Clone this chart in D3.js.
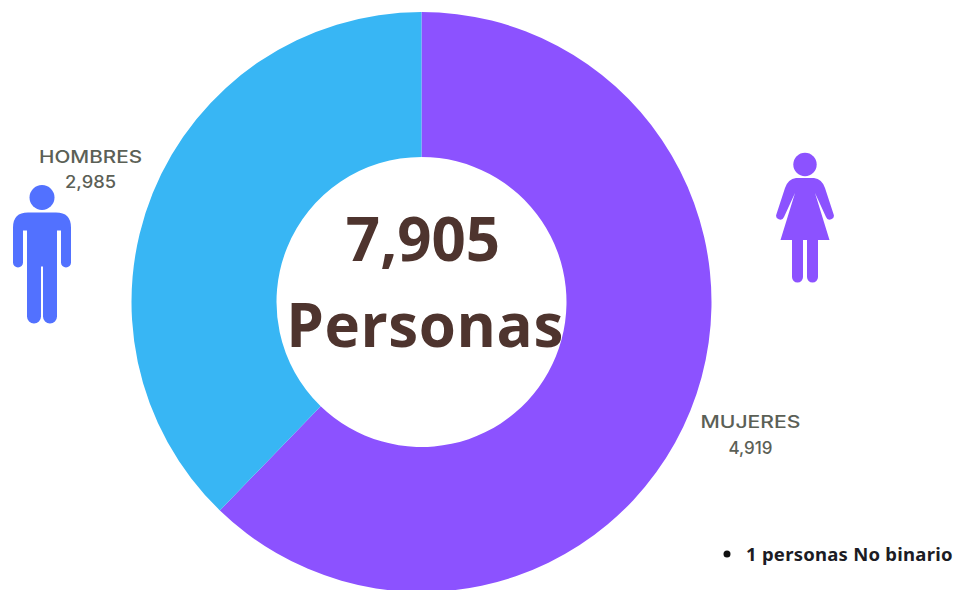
<!DOCTYPE html>
<html>
<head>
<meta charset="utf-8">
<script src="https://cdn.jsdelivr.net/npm/d3@7"></script>
<style>
    html, body { margin: 0; padding: 0; background: #fff; }
    svg { display: block; }
</style>
</head>
<body>
<div id="chart"></div>
<script>
// Values
var categories = ["MUJERES", "HOMBRES"];
var values = [4919, 2985];
var sliceColors = ["#8c52ff", "#38b6f4"];
var noBinario = 1;
var totalLabel = "Personas";
var noteLabel = " personas No binario";

var width = 954,
    height = 590;

var svg = d3.select("#chart").append("svg")
    .attr("width", width)
    .attr("height", height);

// Donut
var pie = d3.pie().sort(null).value(function (d) { return d; });
var arc = d3.arc().innerRadius(145).outerRadius(290);

var donut = svg.append("g").attr("transform", "translate(421.5,302)");

donut.selectAll("path")
    .data(pie(values))
    .enter().append("path")
    .attr("d", arc)
    .attr("fill", function (d, i) { return sliceColors[i]; });

// Center text
var total = d3.sum(values) + noBinario;

svg.append("text")
    .attr("x", 423)
    .attr("y", 261)
    .attr("text-anchor", "middle")
    .style("font", "700 60px 'Open Sans'")
    .style("fill", "#4e342e")
    .text(d3.format(",")(total));

svg.append("text")
    .attr("x", 425)
    .attr("y", 347)
    .attr("text-anchor", "middle")
    .style("font", "700 60px 'Open Sans'")
    .style("letter-spacing", "0.6px")
    .style("fill", "#4e342e")
    .text(totalLabel);

// Slice labels
var labelPos = [[750.5, 428, 100, 44], [90.5, 162.5, 103, 51]];

categories.forEach(function (name, i) {
    var p = labelPos[i];
    var g = svg.append("g")
        .attr("text-anchor", "middle")
        .style("font", "500 17px Inter")
        .style("fill", "#5b6056");
    g.append("text")
        .attr("x", p[0])
        .attr("y", p[1])
        .attr("textLength", p[2])
        .attr("lengthAdjust", "spacingAndGlyphs")
        .text(name);
    g.append("text")
        .attr("x", p[0])
        .attr("y", p[1] + 25.5)
        .attr("textLength", p[3])
        .attr("lengthAdjust", "spacingAndGlyphs")
        .text(d3.format(",")(values[i]));
});

// Man pictogram
var man = svg.append("g").attr("transform", "translate(42,212.5)").attr("fill", "#5271ff");
man.append("circle").attr("cy", -15).attr("r", 12.5);
man.append("path").attr("d",
    "M-29,15 Q-29,0 -14,0 L14,0 Q29,0 29,15 L29,50 A5,5 0 0 1 19,50 L19,18 L15,18 " +
    "L15,104 A7,7 0 0 1 1,104 L1,54 L-1,54 L-1,104 A7,7 0 0 1 -15,104 L-15,18 L-19,18 L-19,50 A5,5 0 0 1 -29,50 Z");

// Woman pictogram
var woman = svg.append("g").attr("transform", "translate(805,178)").attr("fill", "#8c52ff");
woman.append("circle").attr("cy", -13.5).attr("r", 11.7);
woman.append("path").attr("d",
    "M-9,0 L9,0 Q17,1 20,10 L28.5,36 A4,4 0 0 1 21,39 L10,15 L24.5,62 L13,62 L13,99 A5.5,5.5 0 0 1 2,99 L2,62 L-2,62 " +
    "L-2,99 A5.5,5.5 0 0 1 -13,99 L-13,62 L-24.5,62 L-10,15 L-21,39 A4,4 0 0 1 -28.5,36 L-20,10 Q-17,1 -9,0 Z");

// Note
svg.append("circle")
    .attr("cx", 727)
    .attr("cy", 554)
    .attr("r", 3.5)
    .attr("fill", "#111");

svg.append("text")
    .attr("x", 746)
    .attr("y", 561)
    .style("font", "700 18.5px 'Noto Sans'")
    .style("letter-spacing", "0.25px")
    .style("fill", "#1c1c24")
    .text(noBinario + noteLabel);
</script>
</body>
</html>
